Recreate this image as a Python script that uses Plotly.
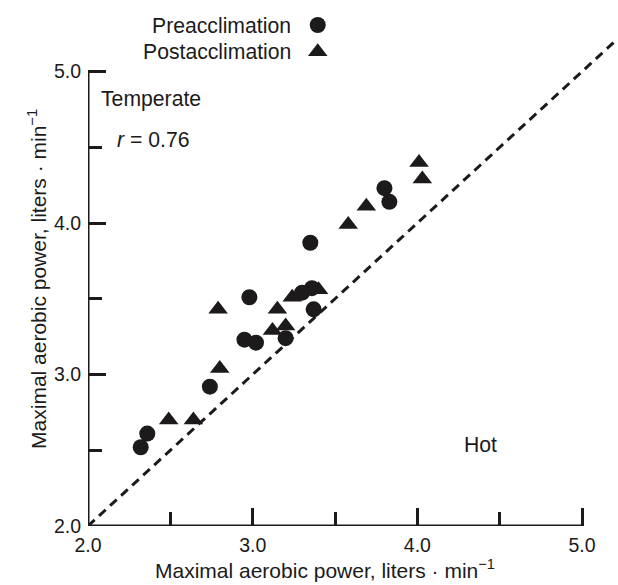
import plotly.graph_objects as go

# Maximal aerobic power (liters/min): hot (x) vs temperate (y)
pre_hot = [2.32, 2.36, 2.74, 2.95, 3.02, 2.98, 3.20, 3.30, 3.36, 3.37, 3.35, 3.80, 3.83]
pre_temperate = [2.52, 2.61, 2.92, 3.23, 3.21, 3.51, 3.24, 3.54, 3.57, 3.43, 3.87, 4.23, 4.14]

post_hot = [2.49, 2.64, 2.80, 2.79, 3.12, 3.20, 3.15, 3.24, 3.40, 3.58, 3.69, 4.01, 4.03]
post_temperate = [2.70, 2.70, 3.04, 3.43, 3.29, 3.32, 3.43, 3.51, 3.56, 3.99, 4.11, 4.40, 4.29]

major_ticks = [2.0, 3.0, 4.0, 5.0]
major_labels = ["2.0", "3.0", "4.0", "5.0"]
minor_ticks = [2.5, 3.5, 4.5]
identity = [2.0, 5.25]

INK = "#1c1a1b"
FONT = "Liberation Sans, Arial, Helvetica, sans-serif"
TICK_FS = 19.5
TEXT_FS = 21.2
TITLE_FS = 21
AXIS_TITLE = "Maximal aerobic power, liters \u00b7 min<sup>\u22121</sup>"

fig = go.Figure()

# line of identity
fig.add_trace(go.Scatter(
    x=identity, y=identity, mode="lines",
    line=dict(color=INK, width=3, dash="9px,6px"),
    hoverinfo="skip", showlegend=False,
))

fig.add_trace(go.Scatter(
    x=pre_hot, y=pre_temperate, mode="markers", name="Preacclimation",
    marker=dict(symbol="circle", size=16, color=INK, line=dict(width=0)),
    showlegend=False,
))
fig.add_trace(go.Scatter(
    x=post_hot, y=post_temperate, mode="markers", name="Postacclimation",
    marker=dict(symbol="triangle-up", size=17, color=INK, line=dict(width=0)),
    showlegend=False,
))

# key symbols beside the key labels
fig.add_trace(go.Scatter(
    x=[3.395], y=[5.307], mode="markers", cliponaxis=False,
    marker=dict(symbol="circle", size=16, color=INK, line=dict(width=0)),
    hoverinfo="skip", showlegend=False,
))
fig.add_trace(go.Scatter(
    x=[3.395], y=[5.13], mode="markers", cliponaxis=False,
    marker=dict(symbol="triangle-up", size=17, color=INK, line=dict(width=0)),
    hoverinfo="skip", showlegend=False,
))

axis_common = dict(
    showgrid=False, zeroline=False, showline=False,
    ticks="inside", tickwidth=3, ticklen=18, tickcolor=INK,
    tickvals=major_ticks, ticktext=major_labels,
    tickfont=dict(family=FONT, size=TICK_FS, color=INK),
    minor=dict(tickvals=minor_ticks, ticks="inside", ticklen=14,
               tickwidth=3, tickcolor=INK, showgrid=False),
)

fig.update_layout(
    width=618, height=585,
    margin=dict(l=88, r=3, t=17, b=59),
    paper_bgcolor="white", plot_bgcolor="white",
    font=dict(family=FONT, size=TEXT_FS, color=INK),
    xaxis=dict(range=[2.0, 5.2], **axis_common, ticklabelstandoff=5),
    yaxis=dict(range=[2.0, 5.36], **axis_common, ticklabelstandoff=6),
    shapes=[
        dict(type="line", xref="x", yref="y", x0=2.0, y0=2.0, x1=5.0, y1=2.0,
             line=dict(color=INK, width=3)),
        dict(type="line", xref="x", yref="y", x0=2.0, y0=2.0, x1=2.0, y1=5.0,
             line=dict(color=INK, width=3)),
    ],
    annotations=[
        dict(text="Preacclimation", xref="x", yref="y", x=3.244, y=5.307,
             xanchor="right", yanchor="middle", showarrow=False),
        dict(text="Postacclimation", xref="x", yref="y", x=3.244, y=5.13,
             xanchor="right", yanchor="middle", showarrow=False),
        dict(text="Temperate", xref="x", yref="y", x=2.065, y=4.82,
             xanchor="left", yanchor="middle", showarrow=False),
        dict(text="<i>r</i> = 0.76", xref="x", yref="y", x=2.165, y=4.55,
             xanchor="left", yanchor="middle", showarrow=False),
        dict(text="Hot", xref="x", yref="y", x=4.27, y=2.54,
             xanchor="left", yanchor="middle", showarrow=False),
        dict(text=AXIS_TITLE, font=dict(size=TITLE_FS),
             xref="x", yref="paper", x=3.44, y=-0.085,
             xanchor="center", yanchor="middle", showarrow=False),
        dict(text=AXIS_TITLE, font=dict(size=TITLE_FS), textangle=-90,
             xref="paper", yref="y", x=-0.097, y=3.63,
             xanchor="center", yanchor="middle", showarrow=False),
    ],
)

fig.write_html("out.html")
